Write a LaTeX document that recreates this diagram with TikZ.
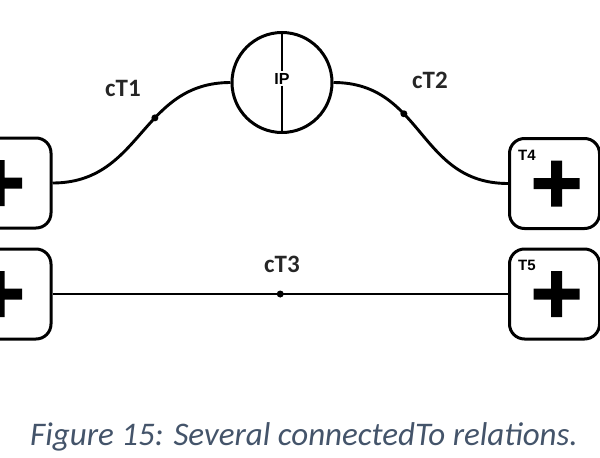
\documentclass[tikz,border=0pt]{standalone}
\usepackage{fontspec}
\setmainfont{Carlito}
\newfontfamily\arialfont{Liberation Sans}
\usepackage{tikz}
\usetikzlibrary{positioning}
\definecolor{captionblue}{HTML}{44546A}
\tikzset{
  term/.style={draw, rounded corners=15pt, minimum width=90pt, minimum height=90pt, line width=3pt},
  conn/.style={line width=2.9pt},
  dot/.style={circle, fill, inner sep=0pt, minimum size=7pt},
  rel/.style={font=\bfseries\fontsize{25}{25}\selectfont, text=black!85, anchor=base},
  tlab/.style={font=\arialfont\bfseries\fontsize{15}{15}\selectfont, inner sep=0pt, anchor=base west}
}
\begin{document}
\begin{tikzpicture}[x=1pt,y=-1pt]
            \useasboundingbox (0,0) rectangle (600,458);
            % terminals
            \node[term] (t1) at (6,183) {};
            \node[term] (t3) at (6,294) {};
            \node[term] (t4) at (554.5,183.5) {};
            \node[term] (t5) at (554.5,294) {};
            \foreach \b/\dx in {t1/-7, t3/-7, t4/2, t5/2}
                \fill ([shift={(\dx-23,-5.5)}]\b.center) rectangle ++(46,11)
                      ([shift={(\dx-5.5,-23)}]\b.center) rectangle ++(11,46);
            \node[tlab] (t4lab) at ([shift={(10,23.5)}]t4.north west) {T4};
            \node[tlab] (t5lab) at ([shift={(10,23)}]t5.north west) {T5};
            % the IP
            \node[draw, circle, minimum size=100pt, line width=3pt] (ip) at (282,82.5) {};
            \node[font=\arialfont\bfseries\fontsize{16}{16}\selectfont, inner sep=1.5pt] (iplab) at (282,78.5) {IP};
            \draw[conn] (ip.north) -- (iplab.north);
            \draw[conn] (iplab.south) -- (ip.south);
            % connectedTo relations
            \draw[conn] (t1.east) .. controls +(90,0) and +(-90,0) .. (ip.west) node[dot, pos=0.6] (d1) {};
            \draw[conn] (ip.east) .. controls +(90,0) and +(-90,0) .. (t4.west) node[dot, pos=0.37] (d2) {};
            \draw[conn] (t3.east) -- (t5.west) node[dot, pos=0.5] (d3) {};
            \node[rel] (ct1) at (123,96) {cT1};
            \node[rel] (ct2) at (430,88) {cT2};
            \node[rel] (ct3) at (282,272) {cT3};
            \node[font=\itshape\fontsize{33}{33}\selectfont, text=captionblue, anchor=base] (cap) at (304,445) {Figure 15: Several connectedTo relations.};
        \end{tikzpicture}
\end{document}
